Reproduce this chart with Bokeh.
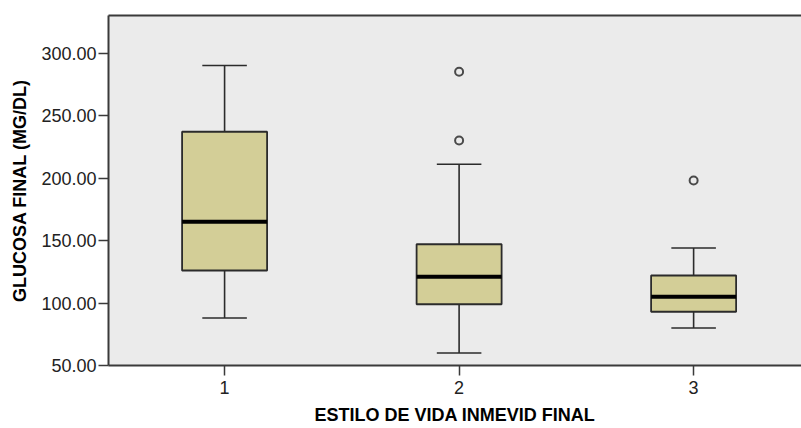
from bokeh.plotting import figure
from bokeh.models import FixedTicker, PrintfTickFormatter, LinearAxis, Range1d
from bokeh.embed import file_html
from bokeh.resources import INLINE

# Data
categories = [1, 2, 3]
cat_labels = ["1", "2", "3"]
lower_whisker = [88, 60, 80]
q1 = [126, 99, 93]
median = [165, 121, 105]
q3 = [237, 147, 122]
upper_whisker = [290, 211, 144]
outlier_x = [2, 2, 3]
outlier_y = [285, 230, 198]
y_ticks = [50, 100, 150, 200, 250, 300]

FONT = "Liberation Sans"
BOX_W = 0.3625
CAP_W = 0.19
MED_W = BOX_W

p = figure(width=801, height=428, output_backend="svg", toolbar_location=None,
           x_range=Range1d(0.505, 3.46), y_range=Range1d(50, 330),
           min_border_left=108, min_border_right=0, min_border_top=15, min_border_bottom=63)
p.background_fill_color = "#ebebeb"
p.border_fill_color = "white"
p.outline_line_color = None
p.grid.visible = False

# whiskers
p.segment(x0=categories, y0=q3, x1=categories, y1=upper_whisker, line_color="#2b2b2b", line_width=1.6)
p.segment(x0=categories, y0=lower_whisker, x1=categories, y1=q1, line_color="#2b2b2b", line_width=1.6)
cap_x0 = [c - CAP_W / 2 for c in categories]
cap_x1 = [c + CAP_W / 2 for c in categories]
p.segment(x0=cap_x0, y0=upper_whisker, x1=cap_x1, y1=upper_whisker, line_color="#2b2b2b", line_width=1.6)
p.segment(x0=cap_x0, y0=lower_whisker, x1=cap_x1, y1=lower_whisker, line_color="#2b2b2b", line_width=1.6)

# boxes
p.vbar(x=categories, width=BOX_W, bottom=q1, top=q3, fill_color="#d3ce97",
       line_color="#2b2b2b", line_width=1.8)
# medians
p.segment(x0=[c - MED_W / 2 for c in categories], y0=median,
          x1=[c + MED_W / 2 for c in categories], y1=median,
          line_color="black", line_width=4)
# outliers
p.scatter(x=outlier_x, y=outlier_y, marker="circle", size=8, fill_color=None,
          line_color="#4a4a4a", line_width=2)

# axes
xa = p.xaxis[0]
xa.ticker = FixedTicker(ticks=categories)
xa.major_label_overrides = {c: l for c, l in zip(categories, cat_labels)}
xa.minor_tick_line_color = None
xa.major_tick_out = 10
xa.major_tick_in = 0
xa.major_label_standoff = 5
xa.axis_label = "ESTILO DE VIDA INMEVID FINAL"
xa.axis_label_standoff = 8

ya = p.yaxis[0]
ya.ticker = FixedTicker(ticks=y_ticks)
ya.formatter = PrintfTickFormatter(format="%.2f")
ya.minor_tick_line_color = None
ya.major_tick_out = 10
ya.major_tick_in = 0
ya.major_label_standoff = 2
ya.axis_label = "GLUCOSA FINAL (MG/DL)"
ya.axis_label_standoff = 8

for ax in (xa, ya):
    ax.axis_line_color = "#3a3a3a"
    ax.axis_line_width = 2
    ax.major_tick_line_color = "#3a3a3a"
    ax.major_tick_line_width = 1.5
    ax.major_label_text_font = FONT
    ax.major_label_text_font_size = "18px"
    ax.major_label_text_color = "#222222"
    ax.axis_label_text_font = FONT
    ax.axis_label_text_font_size = "18px"
    ax.axis_label_text_font_style = "bold"
    ax.axis_label_text_color = "black"

top = LinearAxis(ticker=FixedTicker(ticks=[]), axis_line_color="#3a3a3a", axis_line_width=2,
                 major_tick_out=0, major_tick_in=0, minor_tick_out=0, minor_tick_in=0,
                 major_label_standoff=0, major_label_text_font_size="0px")
p.add_layout(top, "above")

open("out.html", "w").write(file_html(p, INLINE))
